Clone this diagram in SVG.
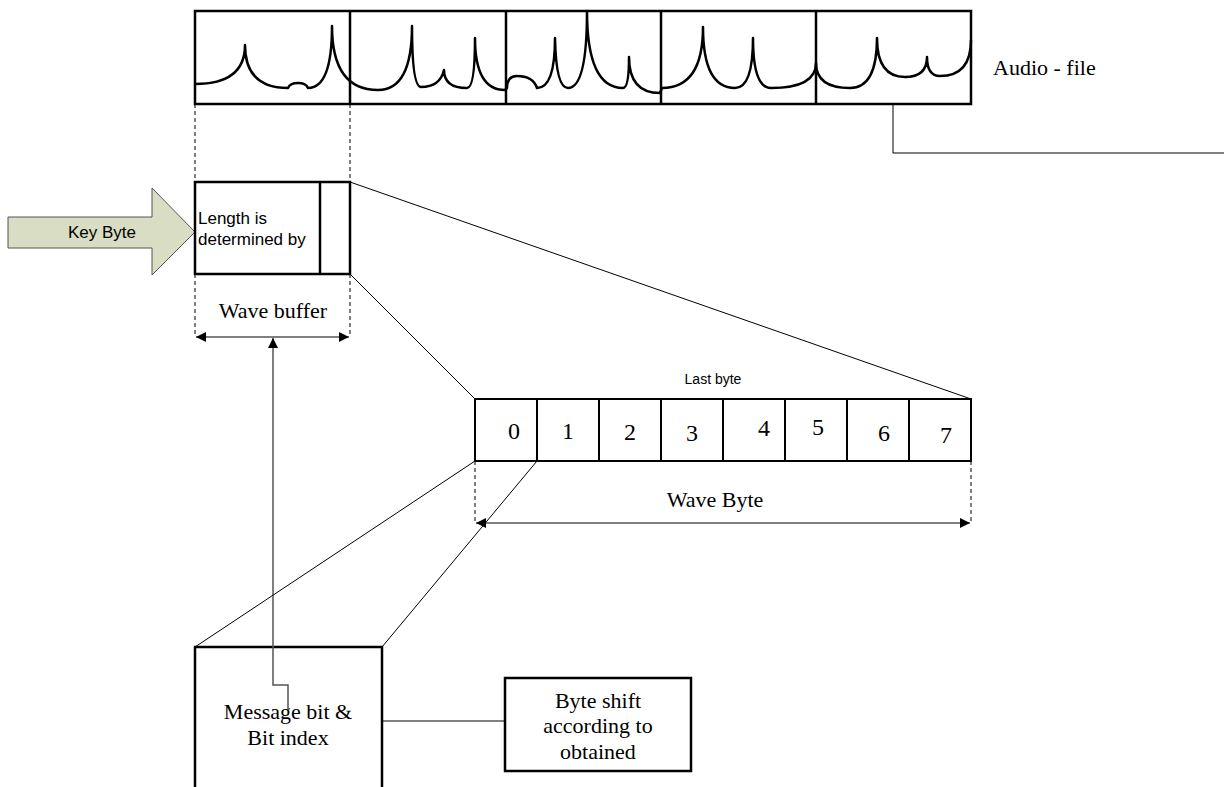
<svg xmlns="http://www.w3.org/2000/svg" width="1224" height="787" viewBox="0 0 1224 787">
<style>
.box{fill:#fff;stroke:#000;stroke-width:2.5}
.cell{fill:#fff;stroke:#000;stroke-width:2}
.wave{fill:none;stroke:#000;stroke-width:2.5;stroke-linejoin:round}
.ln{fill:none;stroke:#000;stroke-width:1}
.dash{fill:none;stroke:#000;stroke-width:1;stroke-dasharray:4,3}
.gl{fill:none;stroke:#555;stroke-width:1.5}
.serif{font-family:"Liberation Serif","Times New Roman",serif;fill:#000}
.sans{font-family:"Liberation Sans",Arial,sans-serif;fill:#000}
</style>
<defs>
<marker id="ah" viewBox="0 0 10 10" refX="10" refY="5" markerWidth="14" markerHeight="10" markerUnits="userSpaceOnUse" orient="auto-start-reverse">
<path d="M0,0 L10,5 L0,10 z" fill="#000"/>
</marker>
</defs>
<rect width="1224" height="787" fill="#fff"/>

<g id="audio-file">
<rect class="box" x="195" y="11" width="776" height="93"/>
<line class="box" x1="350" y1="11" x2="350" y2="104"/>
<line class="box" x1="506" y1="11" x2="506" y2="104"/>
<line class="box" x1="661" y1="11" x2="661" y2="104"/>
<line class="box" x1="816" y1="11" x2="816" y2="104"/>
<path class="wave" d="M195,84 Q245,84 245,45 Q245,88 288,88 Q290,83 298,83 Q306,83 308,88 Q332,88 332,26 Q332,90 378,90 Q412,90 412,26 Q412,87 421,87 Q440,87 444,70 Q444,88 467,88 Q475,88 475,38 Q475,90 505,90 L507,88 Q507,76 517,76 Q533,76 537,88 Q555,88 555,38 Q556,88 568,88 Q587,88 587,11 Q587,88 623,88 Q629,88 629,57 Q629,93 660,93 L662,88 Q703,88 703,27 Q703,88 735,88 Q753,88 753,38 Q753,88 771,88 Q816,88 816,63 Q816,88 850,88 Q877,88 877,38 Q877,77 905,77 Q927,77 927,57 Q927,76 940,76 Q971,76 971,40"/>
<text class="serif" x="993" y="75" font-size="22">Audio - file</text>
</g>

<g id="key-byte">
<path d="M8,217 L152,217 L152,188 L195,232 L152,275 L152,248 L8,248 z" fill="#d8ddc3" stroke="#555" stroke-width="1"/>
<text class="sans" x="102" y="238" font-size="17" text-anchor="middle">Key Byte</text>
</g>

<g id="wave-buffer">
<rect class="box" x="195" y="182" width="155" height="92"/>
<line class="box" x1="320" y1="182" x2="320" y2="274"/>
<text class="sans" x="198" y="224" font-size="17">Length is</text>
<text class="sans" x="198" y="245" font-size="17">determined by</text>
<text class="serif" x="273" y="318" font-size="22" text-anchor="middle">Wave buffer</text>
</g>

<g id="last-byte">
<text class="sans" x="713" y="384" font-size="14" text-anchor="middle">Last byte</text>
<rect class="cell" x="475" y="399" width="62" height="62"/>
<rect class="cell" x="537" y="399" width="62" height="62"/>
<rect class="cell" x="599" y="399" width="62" height="62"/>
<rect class="cell" x="661" y="399" width="62" height="62"/>
<rect class="cell" x="723" y="399" width="62" height="62"/>
<rect class="cell" x="785" y="399" width="62" height="62"/>
<rect class="cell" x="847" y="399" width="62" height="62"/>
<rect class="cell" x="909" y="399" width="62" height="62"/>
<g class="serif" font-size="24" text-anchor="middle">
<text x="514" y="439">0</text>
<text x="568" y="439">1</text>
<text x="630" y="440">2</text>
<text x="692" y="441">3</text>
<text x="764" y="436">4</text>
<text x="818" y="435">5</text>
<text x="884" y="441">6</text>
<text x="946" y="443">7</text>
</g>
<text class="serif" x="715" y="507" font-size="22" text-anchor="middle">Wave Byte</text>
</g>

<g id="message-bit">
<rect class="box" x="195" y="647" width="187" height="160"/>
<text class="serif" x="288" y="719" font-size="22" text-anchor="middle">Message bit &amp;</text>
<text class="serif" x="288" y="745" font-size="22" text-anchor="middle">Bit index</text>
</g>

<g id="byte-shift">
<rect class="box" x="505" y="678" width="186" height="93"/>
<text class="serif" x="598" y="708" font-size="22" text-anchor="middle">Byte shift</text>
<text class="serif" x="598" y="733" font-size="22" text-anchor="middle">according to</text>
<text class="serif" x="598" y="759" font-size="22" text-anchor="middle">obtained</text>
</g>

<g id="connectors">
<polyline class="ln" points="893,104 893,153 1224,153"/>
<line class="dash" x1="195" y1="104" x2="195" y2="182"/>
<line class="dash" x1="350" y1="104" x2="350" y2="182"/>
<line class="dash" x1="195" y1="274" x2="195" y2="337"/>
<line class="dash" x1="350" y1="274" x2="350" y2="337"/>
<line class="gl" x1="196" y1="337" x2="349" y2="337" marker-start="url(#ah)" marker-end="url(#ah)"/>
<polyline class="gl" points="288,710 288,685 273,685 273,338" marker-end="url(#ah)" stroke-width="1.2"/>
<line class="ln" x1="350" y1="182" x2="971" y2="399"/>
<line class="ln" x1="350" y1="274" x2="475" y2="399"/>
<line class="ln" x1="475" y1="461" x2="195" y2="647"/>
<line class="ln" x1="537" y1="461" x2="382" y2="647"/>
<line class="dash" x1="475" y1="461" x2="475" y2="523"/>
<line class="dash" x1="971" y1="461" x2="971" y2="523"/>
<line class="gl" x1="476" y1="523" x2="970" y2="523" marker-start="url(#ah)" marker-end="url(#ah)"/>
<line class="ln" x1="382" y1="721" x2="505" y2="721"/>
</g>
</svg>
